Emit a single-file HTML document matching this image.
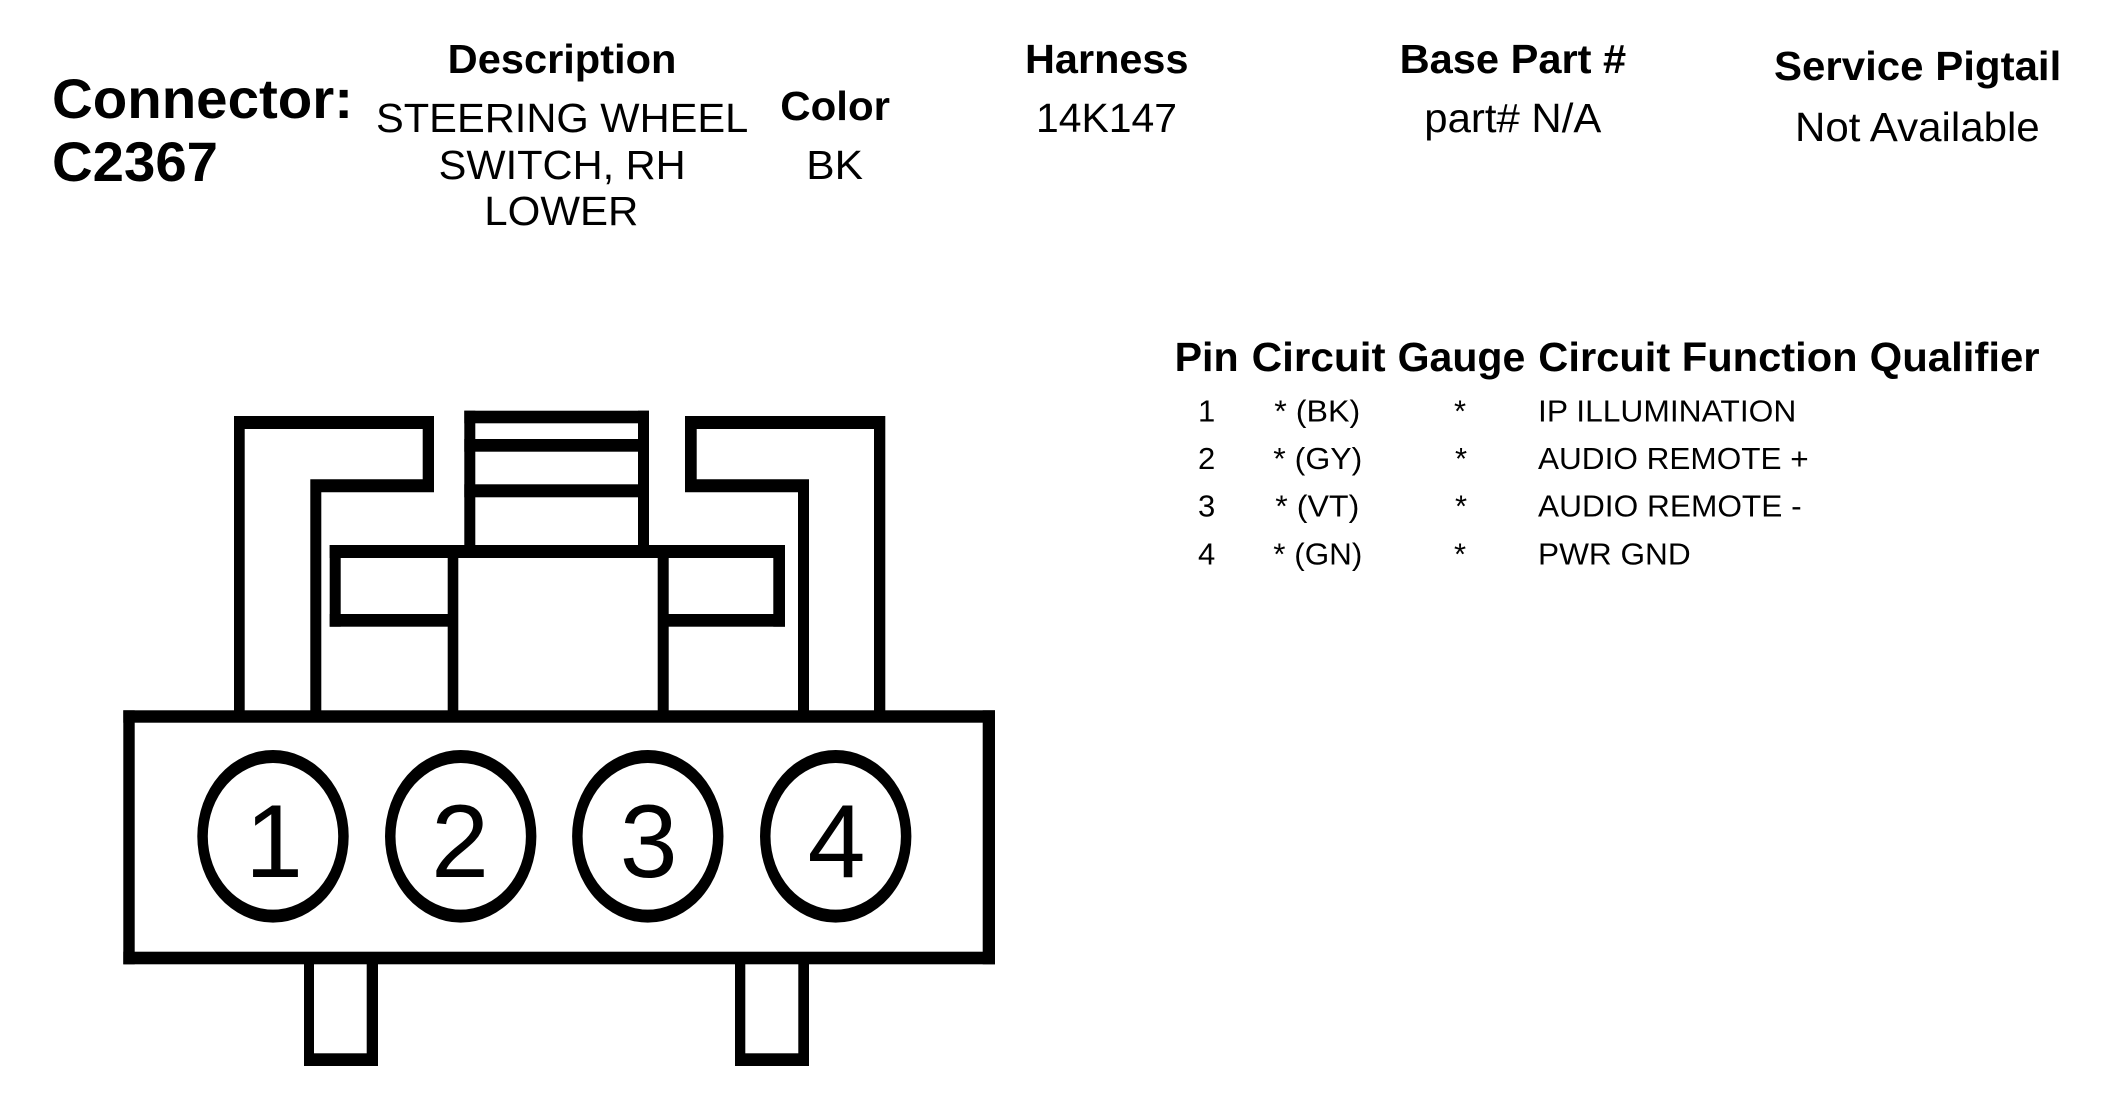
<!DOCTYPE html>
<html>
<head>
<meta charset="utf-8">
<style>
html,body{margin:0;padding:0;background:#fff;width:2112px;height:1116px;overflow:hidden}
svg{display:block}
text{font-family:"Liberation Sans",Arial,sans-serif;fill:#000}
.b{font-weight:700}
</style>
</head>
<body>
<svg width="2112" height="1116" viewBox="0 0 2112 1116" xmlns="http://www.w3.org/2000/svg">
<rect width="2112" height="1116" fill="#fff"/>

<!-- Header text -->
<g>
<text class="b" x="52" y="118" font-size="56" textLength="301" lengthAdjust="spacingAndGlyphs">Connector:</text>
<text class="b" x="52" y="181" font-size="56" textLength="166" lengthAdjust="spacingAndGlyphs">C2367</text>

<text class="b" x="447.7" y="73" font-size="41" textLength="228.7" lengthAdjust="spacingAndGlyphs">Description</text>
<text x="376" y="132" font-size="41" textLength="372.3" lengthAdjust="spacingAndGlyphs">STEERING WHEEL</text>
<text x="438.7" y="179" font-size="41" textLength="247" lengthAdjust="spacingAndGlyphs">SWITCH, RH</text>
<text x="484.3" y="225" font-size="41" textLength="154" lengthAdjust="spacingAndGlyphs">LOWER</text>

<text class="b" x="780.3" y="120" font-size="41" textLength="109.7" lengthAdjust="spacingAndGlyphs">Color</text>
<text x="806.3" y="179" font-size="41" textLength="56.7" lengthAdjust="spacingAndGlyphs">BK</text>

<text class="b" x="1025" y="73" font-size="41" textLength="163.5" lengthAdjust="spacingAndGlyphs">Harness</text>
<text x="1036" y="132" font-size="41" textLength="141" lengthAdjust="spacingAndGlyphs">14K147</text>

<text class="b" x="1399.6" y="73" font-size="41" textLength="226.6" lengthAdjust="spacingAndGlyphs">Base Part #</text>
<text x="1424.3" y="132" font-size="41" textLength="177" lengthAdjust="spacingAndGlyphs">part# N/A</text>

<text class="b" x="1774" y="80" font-size="41" textLength="287.3" lengthAdjust="spacingAndGlyphs">Service Pigtail</text>
<text x="1795" y="141" font-size="41" textLength="244.7" lengthAdjust="spacingAndGlyphs">Not Available</text>

<!-- Pin table header -->
<text class="b" x="1174.6" y="371" font-size="41" textLength="64" lengthAdjust="spacingAndGlyphs">Pin</text>
<text class="b" x="1251.6" y="371" font-size="41" textLength="134" lengthAdjust="spacingAndGlyphs">Circuit</text>
<text class="b" x="1397.6" y="371" font-size="41" textLength="127.7" lengthAdjust="spacingAndGlyphs">Gauge</text>
<text class="b" x="1538.3" y="371" font-size="41" textLength="319.3" lengthAdjust="spacingAndGlyphs">Circuit Function</text>
<text class="b" x="1869.6" y="371" font-size="41" textLength="170" lengthAdjust="spacingAndGlyphs">Qualifier</text>

<!-- Pin rows -->
<text x="1206.6" y="421.7" font-size="31" text-anchor="middle">1</text>
<text x="1206.6" y="469" font-size="31" text-anchor="middle">2</text>
<text x="1206.6" y="516.7" font-size="31" text-anchor="middle">3</text>
<text x="1206.6" y="564.7" font-size="31" text-anchor="middle">4</text>

<text x="1274.3" y="421.7" font-size="31" textLength="86" lengthAdjust="spacingAndGlyphs">* (BK)</text>
<text x="1273.3" y="469" font-size="31" textLength="89" lengthAdjust="spacingAndGlyphs">* (GY)</text>
<text x="1275.3" y="516.7" font-size="31" textLength="84" lengthAdjust="spacingAndGlyphs">* (VT)</text>
<text x="1273.3" y="564.7" font-size="31" textLength="89" lengthAdjust="spacingAndGlyphs">* (GN)</text>

<text x="1460" y="421.7" font-size="31" text-anchor="middle">*</text>
<text x="1461" y="469" font-size="31" text-anchor="middle">*</text>
<text x="1461" y="516.7" font-size="31" text-anchor="middle">*</text>
<text x="1460" y="564.7" font-size="31" text-anchor="middle">*</text>

<text x="1538" y="421.7" font-size="31" textLength="258.3" lengthAdjust="spacingAndGlyphs">IP ILLUMINATION</text>
<text x="1538" y="469" font-size="31" textLength="270.7" lengthAdjust="spacingAndGlyphs">AUDIO REMOTE +</text>
<text x="1538" y="516.7" font-size="31" textLength="263.7" lengthAdjust="spacingAndGlyphs">AUDIO REMOTE -</text>
<text x="1538" y="564.7" font-size="31" textLength="152.7" lengthAdjust="spacingAndGlyphs">PWR GND</text>
</g>

<!-- Connector drawing -->
<g fill="#000">
  <!-- left bracket -->
  <polygon points="234,416 434,416 434,492.3 321.3,492.3 321.3,712 310.3,712 310.3,479.3 422.7,479.3 422.7,429 244.7,429 244.7,712 234,712"/>
  <!-- right bracket -->
  <polygon points="885.3,416 685,416 685,492.3 798,492.3 798,712 809,712 809,479.3 696.7,479.3 696.7,429 874,429 874,712 885.3,712"/>
  <!-- center top stack -->
  <rect x="464.3" y="410.7" width="184.7" height="12.6"/>
  <rect x="464.3" y="439" width="184.7" height="12.7"/>
  <rect x="464.3" y="484.3" width="184.7" height="13"/>
  <rect x="464.3" y="410.7" width="11" height="140"/>
  <rect x="638" y="410.7" width="11" height="140"/>
  <!-- crossbar -->
  <rect x="329.7" y="545" width="455.3" height="13"/>
  <rect x="329.7" y="614" width="120" height="12.7"/>
  <rect x="665" y="614" width="120" height="12.7"/>
  <rect x="329.7" y="545" width="11" height="81.7"/>
  <rect x="773.3" y="545" width="11.7" height="81.7"/>
  <rect x="447.7" y="545" width="10.6" height="170"/>
  <rect x="657.7" y="545" width="11" height="170"/>
  <!-- base -->
  <rect x="123.3" y="710.3" width="871.7" height="12.4"/>
  <rect x="123.3" y="951.7" width="871.7" height="12.6"/>
  <rect x="123.3" y="710.3" width="11.4" height="254"/>
  <rect x="982.7" y="710.3" width="12.3" height="254"/>
  <!-- bottom tabs -->
  <rect x="304" y="960" width="10" height="106"/>
  <rect x="366.7" y="960" width="11.3" height="106"/>
  <rect x="304" y="1053.3" width="74" height="12.7"/>
  <rect x="735" y="960" width="10.3" height="106"/>
  <rect x="798.3" y="960" width="10.7" height="106"/>
  <rect x="735" y="1053.3" width="74" height="12.7"/>
  <!-- pin circles -->
  <path fill-rule="evenodd" d="M197.3,836.3a75.7,86.3 0 1,0 151.4,0a75.7,86.3 0 1,0 -151.4,0zM207.8,836.3a65.2,73.3 0 1,1 130.4,0a65.2,73.3 0 1,1 -130.4,0z"/>
  <path fill-rule="evenodd" d="M385,836.3a75.7,86.3 0 1,0 151.4,0a75.7,86.3 0 1,0 -151.4,0zM395.5,836.3a65.2,73.3 0 1,1 130.4,0a65.2,73.3 0 1,1 -130.4,0z"/>
  <path fill-rule="evenodd" d="M572.1,836.3a75.7,86.3 0 1,0 151.4,0a75.7,86.3 0 1,0 -151.4,0zM582.6,836.3a65.2,73.3 0 1,1 130.4,0a65.2,73.3 0 1,1 -130.4,0z"/>
  <path fill-rule="evenodd" d="M760,836.3a75.7,86.3 0 1,0 151.4,0a75.7,86.3 0 1,0 -151.4,0zM770.5,836.3a65.2,73.3 0 1,1 130.4,0a65.2,73.3 0 1,1 -130.4,0z"/>
</g>
<text x="274" y="877" font-size="104" text-anchor="middle">1</text>
<text x="460" y="877" font-size="104" text-anchor="middle">2</text>
<text x="648.7" y="877" font-size="104" text-anchor="middle">3</text>
<text x="836.5" y="877" font-size="104" text-anchor="middle">4</text>
</svg>
</body>
</html>
